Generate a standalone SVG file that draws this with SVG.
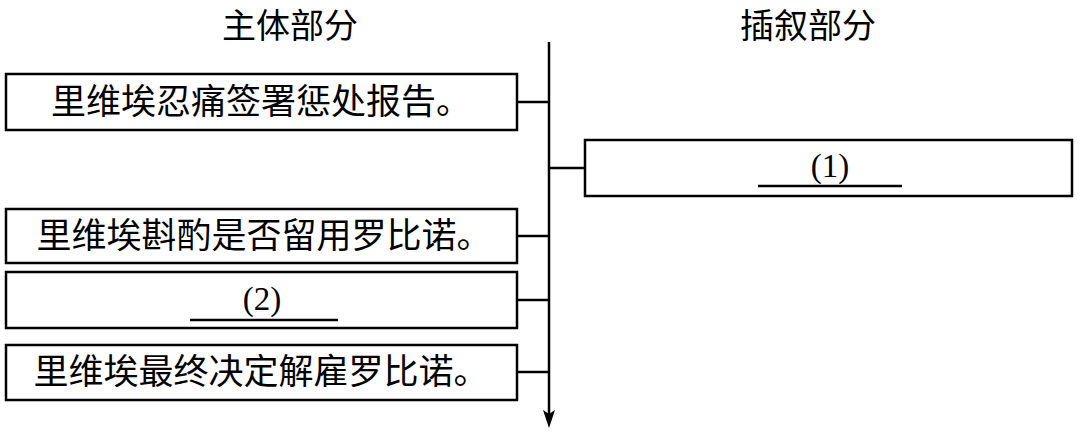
<svg xmlns="http://www.w3.org/2000/svg" width="1080" height="433" viewBox="0 0 1080 433">
<style>
.b{fill:#fff;stroke:#000;stroke-width:2.5}
.t{font-family:"Noto Sans CJK SC","Liberation Serif",serif;font-size:35px;fill:#000;text-anchor:middle}
.h{font-family:"Noto Sans CJK SC",serif;font-size:34px;fill:#000;text-anchor:middle}
.n{font-family:"Liberation Serif",serif;font-size:33px;text-anchor:middle}
.l{stroke:#000;stroke-width:2.5;fill:none}
</style>
<text class="h" x="290" y="38">主体部分</text>
<text class="h" x="808" y="38">插叙部分</text>
<g id="connectors">
<line class="l" x1="549" y1="42" x2="549" y2="414"/>
<polygon points="543,410 549,428 555,410 549,414" fill="#000"/>
<path class="l" d="M517,102H549M517,236H549M517,300H549M517,372H549M549,168H585"/>
</g>
<g id="n1"><rect class="b" x="6" y="74" width="511" height="56"/><text class="t" x="261" y="114">里维埃忍痛签署惩处报告。</text></g>
<g id="n2"><rect class="b" x="6" y="209" width="511" height="54"/><text class="t" x="264" y="248">里维埃斟酌是否留用罗比诺。</text></g>
<g id="n3"><rect class="b" x="6" y="272" width="511" height="56"/><text class="n" x="262" y="310">(2)</text><line class="l" x1="190" y1="320" x2="338" y2="320"/></g>
<g id="n4"><rect class="b" x="6" y="345" width="511" height="55"/><text class="t" x="261" y="384">里维埃最终决定解雇罗比诺。</text></g>
<g id="n5"><rect class="b" x="585" y="140" width="487" height="56"/><text class="n" x="830" y="177">(1)</text><line class="l" x1="758" y1="186" x2="902" y2="186"/></g>
</svg>
